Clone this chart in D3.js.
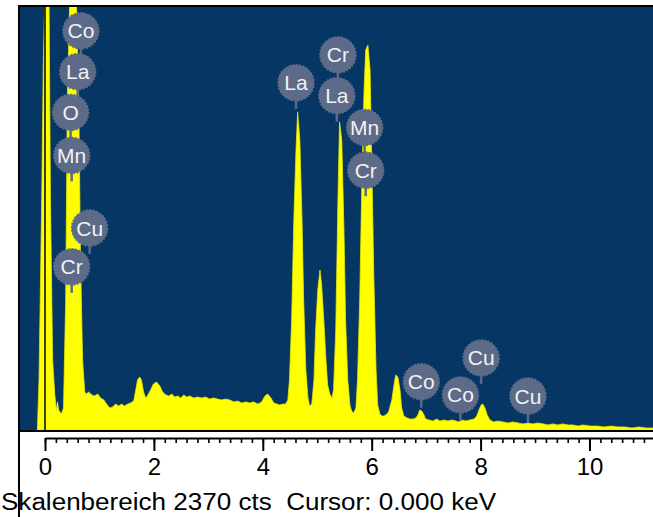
<!DOCTYPE html>
<html>
<head>
<meta charset="utf-8">
<script src="https://cdn.jsdelivr.net/npm/d3@7"></script>
<style>
  body { margin: 0; background: #fff; }
  svg { display: block; }
</style>
</head>
<body>
<div id="chart"></div>
<script>
var width = 653
var height = 517

var scaleRange = 2370
var cursorKeV = 0.000

var majorTicks = [0, 2, 4, 6, 8, 10]

var spectrumKeV = [-0.14, -0.11, -0.06, -0.03, 0.01, 0.07, 0.10, 0.14, 0.18, 0.21, 0.23, 0.25, 0.30, 0.34, 0.38, 0.41, 0.47, 0.56, 0.62, 0.65,
    0.69, 0.73, 0.76, 0.80, 0.86, 0.91, 0.97, 1.02, 1.08, 1.13, 1.19, 1.24, 1.30, 1.35, 1.41, 1.46, 1.52, 1.57, 1.63, 1.66,
    1.70, 1.74, 1.77, 1.81, 1.85, 1.88, 1.94, 1.99, 2.05, 2.11, 2.16, 2.22, 2.27, 2.33, 2.38, 2.44, 2.49, 2.55, 2.60, 2.66,
    2.73, 2.80, 2.88, 2.95, 3.02, 3.10, 3.17, 3.24, 3.32, 3.39, 3.47, 3.54, 3.61, 3.69, 3.76, 3.83, 3.91, 3.98, 4.04, 4.09,
    4.15, 4.20, 4.26, 4.31, 4.37, 4.42, 4.46, 4.49, 4.53, 4.57, 4.61, 4.64, 4.68, 4.72, 4.75, 4.79, 4.83, 4.86, 4.90, 4.94,
    4.97, 5.01, 5.05, 5.08, 5.12, 5.16, 5.19, 5.23, 5.27, 5.30, 5.34, 5.38, 5.41, 5.45, 5.49, 5.52, 5.56, 5.60, 5.63, 5.67,
    5.71, 5.74, 5.78, 5.82, 5.86, 5.89, 5.93, 5.97, 6.00, 6.04, 6.08, 6.11, 6.15, 6.19, 6.22, 6.26, 6.31, 6.37, 6.41, 6.44,
    6.48, 6.52, 6.55, 6.59, 6.65, 6.70, 6.76, 6.81, 6.85, 6.88, 6.92, 6.96, 6.99, 7.05, 7.12, 7.20, 7.25, 7.33, 7.40, 7.47,
    7.55, 7.60, 7.66, 7.73, 7.80, 7.88, 7.93, 7.97, 8.01, 8.04, 8.08, 8.12, 8.17, 8.24, 8.32, 8.41, 8.50, 8.59, 8.69, 8.78,
    8.87, 8.96, 9.05, 9.15, 9.24, 9.33, 9.42, 9.51, 9.61, 9.70, 9.79, 9.88, 10.01, 10.14, 10.27, 10.40, 10.52, 10.65, 10.78, 10.91,
    11.04, 11.17, 11.30]

var spectrumCts = [0, 280, 1286, 2068, 2600, 2600, 1286, 391, 196, 112, 157, 112, 89, 123, 727, 1845, 2600, 2600, 1845, 1006,
    391, 212, 201, 212, 196, 190, 201, 179, 168, 145, 123, 129, 145, 134, 145, 134, 145, 151, 162, 212,
    280, 296, 280, 212, 179, 190, 224, 257, 268, 246, 212, 196, 190, 201, 184, 190, 179, 196, 184, 190,
    179, 184, 179, 184, 173, 179, 173, 168, 173, 168, 157, 162, 151, 157, 151, 157, 145, 157, 190, 201,
    179, 151, 145, 140, 145, 145, 168, 280, 615, 1174, 1565, 1778, 1621, 1174, 727, 335, 179, 134, 145, 280,
    559, 783, 894, 811, 615, 391, 252, 201, 179, 224, 559, 1286, 1722, 1621, 1118, 615, 280, 140, 106, 95,
    123, 280, 727, 1398, 1901, 2124, 2152, 2012, 1509, 839, 335, 140, 89, 78, 78, 84, 101, 168, 252, 307,
    296, 224, 123, 78, 67, 61, 61, 67, 84, 112, 106, 84, 61, 56, 50, 61, 50, 56, 50, 56,
    50, 45, 56, 50, 56, 61, 78, 112, 140, 145, 123, 84, 56, 45, 50, 45, 39, 45, 39, 34,
    39, 34, 39, 34, 28, 34, 28, 34, 28, 28, 22, 28, 22, 22, 17, 22, 17, 17, 11, 17,
    11, 11, 11]

var labelNames = ["Co", "La", "O", "Mn", "Cu", "Cr", "La", "Cr", "La", "Mn", "Cr", "Co", "Co", "Cu", "Cu"]
var labelKeV = [0.66, 0.60, 0.47, 0.49, 0.82, 0.49, 4.61, 5.38, 5.36, 5.87, 5.89, 6.91, 7.63, 8.01, 8.87]
var labelCts = [2231, 2003, 1775, 1535, 1129, 912, 1941, 2097, 1869, 1691, 1452, 270, 196, 403, 190]

var plot = {left: 20, top: 6, right: 653, bottom: 430}
var axisY = 438

var svg = d3.select("#chart")
    .append("svg")
    .attr("width", width)
    .attr("height", height)

var x = d3.scaleLinear().domain([0, 10]).range([45, 589.5])
var y = d3.scaleLinear().domain([0, scaleRange]).range([plot.bottom, plot.top])

svg.append("defs").append("clipPath")
    .attr("id", "clip")
    .append("rect")
    .attr("x", plot.left)
    .attr("y", plot.top)
    .attr("width", plot.right - plot.left)
    .attr("height", plot.bottom - plot.top)

svg.append("rect")
    .attr("x", plot.left)
    .attr("y", plot.top)
    .attr("width", plot.right - plot.left)
    .attr("height", plot.bottom - plot.top)
    .style("fill", "#063764")

var spectrum = spectrumKeV.map(function(e, i) { return {e: e, c: spectrumCts[i]}; })

var area = d3.area()
    .x(function(d) { return x(d.e); })
    .y0(y(0))
    .y1(function(d) { return y(d.c); })

svg.append("path")
    .datum(spectrum)
    .attr("clip-path", "url(#clip)")
    .attr("d", area)
    .style("fill", "#ffff00")
    .style("stroke", "#e8e800")
    .style("stroke-width", 0.8)

// cursor
svg.append("line")
    .attr("x1", x(cursorKeV)).attr("x2", x(cursorKeV))
    .attr("y1", plot.top).attr("y2", plot.bottom)
    .style("stroke", "#000")
    .style("stroke-width", 1.5)

// element markers
var labels = labelNames.map(function(n, i) { return {name: n, e: labelKeV[i], c: labelCts[i]}; })
var r = 18

var mark = svg.append("g")
    .attr("clip-path", "url(#clip)")
    .selectAll("g.mark")
    .data(labels)
    .enter().append("g")
    .attr("class", "mark")
    .attr("transform", function(d) { return "translate(" + x(d.e) + "," + y(d.c) + ")"; })

mark.append("line")
    .attr("x1", 0).attr("x2", 0)
    .attr("y1", 0).attr("y2", r + 8)
    .style("stroke", "#5d6b88")
    .style("stroke-width", 2.5)

mark.append("circle")
    .attr("r", r)
    .style("fill", "#5d6b88")
    .style("stroke", "#5d6b88")
    .style("stroke-width", 1.5)
    .style("stroke-dasharray", "2,1.5")

mark.append("text")
    .attr("text-anchor", "middle")
    .attr("dy", "0.36em")
    .style("font", "normal 21px 'Liberation Sans', Arial, sans-serif")
    .style("fill", "#f2f2f2")
    .text(function(d) { return d.name; })

// frame
svg.append("line")
    .attr("x1", plot.left - 1).attr("x2", plot.right)
    .attr("y1", plot.top).attr("y2", plot.top)
    .style("stroke", "#000").style("stroke-width", 2)
svg.append("line")
    .attr("x1", plot.left - 1).attr("x2", plot.left - 1)
    .attr("y1", plot.top - 1).attr("y2", height)
    .style("stroke", "#000").style("stroke-width", 2)
svg.append("line")
    .attr("x1", plot.left).attr("x2", plot.right)
    .attr("y1", plot.bottom + 1).attr("y2", plot.bottom + 1)
    .style("stroke", "#000").style("stroke-width", 2)

// x axis
var xAxisScale = x.copy().domain([0, x.invert(plot.right)]).range([x(0), plot.right])

var minor = d3.range(0, 11.2, 0.2)
svg.append("g")
    .attr("transform", "translate(0," + axisY + ")")
    .call(d3.axisBottom(xAxisScale).tickValues(minor).tickSize(5).tickSizeOuter(0).tickFormat(""))
    .call(function(g) {
        g.select(".domain").style("stroke-width", 2)
        g.selectAll(".tick line").style("stroke-width", 1.6)
    })

svg.append("g")
    .attr("transform", "translate(0," + axisY + ")")
    .call(d3.axisBottom(xAxisScale).tickValues(majorTicks).tickSize(13).tickSizeOuter(0).tickFormat(d3.format("d")))
    .call(function(g) {
        g.select(".domain").remove()
        g.selectAll(".tick line").style("stroke-width", 2)
        g.selectAll(".tick text")
            .attr("y", 37)
            .attr("dy", null)
            .style("font", "normal 24px 'Liberation Sans', Arial, sans-serif")
            .style("fill", "#000")
    })

svg.append("text")
    .attr("x", 1)
    .attr("y", 510)
    .attr("textLength", 495)
    .attr("lengthAdjust", "spacingAndGlyphs")
    .style("font", "normal 23px 'Liberation Sans', Arial, sans-serif")
    .style("fill", "#000")
    .style("white-space", "pre")
    .text("Skalenbereich " + scaleRange + " cts  Cursor: " + cursorKeV.toFixed(3) + " keV")
</script>
</body>
</html>
